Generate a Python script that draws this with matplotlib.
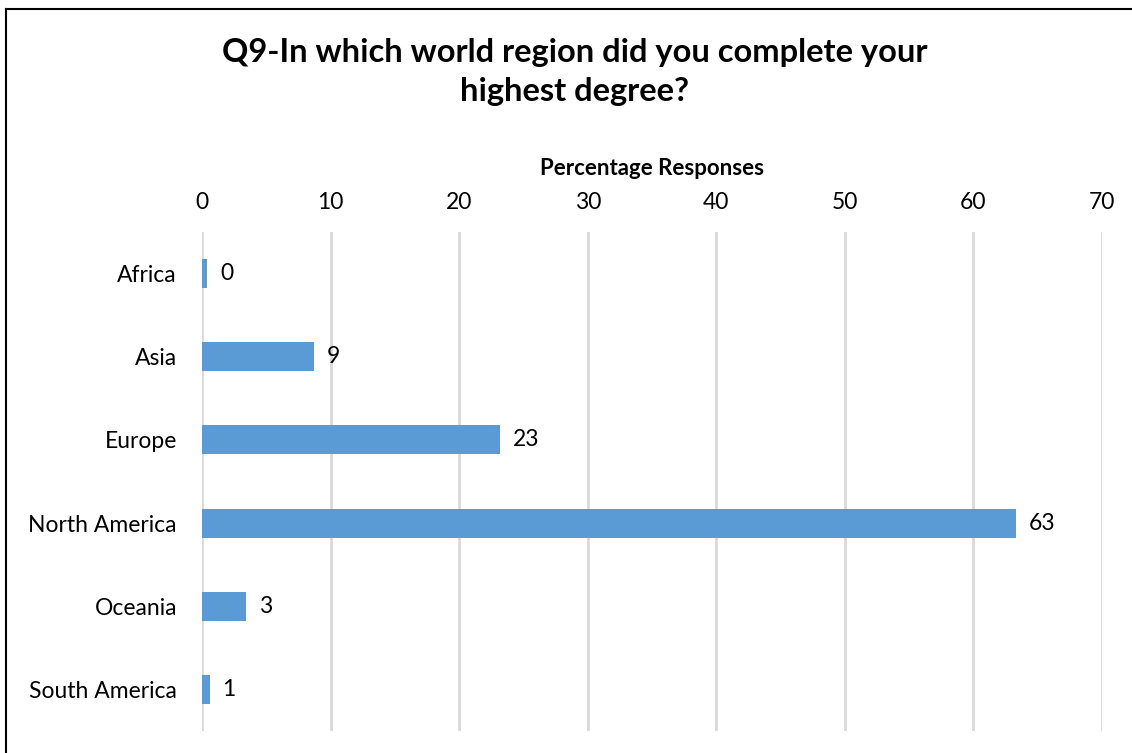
import matplotlib.pyplot as plt
from matplotlib.lines import Line2D

regions = ['Africa', 'Asia', 'Europe', 'North America', 'Oceania', 'South America']
percent = [0.4, 8.7, 23.2, 63.3, 3.4, 0.6]
labels = ['0', '9', '23', '63', '3', '1']
xticks = [0, 10, 20, 30, 40, 50, 60, 70]

plt.rcParams['font.family'] = ['Lato', 'DejaVu Sans']

W, H = 1132, 753
fig = plt.figure(figsize=(W / 100, H / 100), dpi=100)
ax = fig.add_axes([202 / W, (H - 731) / H, 900 / W, 499 / H])

y = list(range(len(regions)))
ax.barh(y, percent, height=0.35, color='#5b9bd5', zorder=3)
for yi, v, lab in zip(y, percent, labels):
    ax.text(v + 1.0, yi, lab, va='center', ha='left', fontsize=16.5, color='black')

ax.set_xlim(0, 70)
ax.set_ylim(len(regions) - 0.5, -0.5)
ax.set_yticks(y)
ax.set_yticklabels(regions, fontsize=16.5)
ax.set_xticks(xticks)
ax.set_xticklabels([str(t) for t in xticks], fontsize=16.5)
ax.xaxis.tick_top()
ax.xaxis.set_label_position('top')
ax.set_xlabel('Percentage Responses', fontsize=16, fontweight='bold', labelpad=12)
ax.tick_params(axis='y', length=0, pad=18)
ax.tick_params(axis='x', length=0, pad=14)
ax.grid(axis='x', color='#d9d9d9', linewidth=2, zorder=0)
for s in ax.spines.values():
    s.set_visible(False)

fig.text(575 / W, 1 - 72 / H, 'Q9-In which world region did you complete your\nhighest degree?',
         ha='center', va='center', fontsize=23.5, fontweight='bold', linespacing=1.4)

# frame around the chart (cut off at the right and bottom)
fig.add_artist(Line2D([6 / W, 1], [1 - 9 / H, 1 - 9 / H], color='black', linewidth=1.5))
fig.add_artist(Line2D([6 / W, 6 / W], [0, 1 - 9 / H], color='black', linewidth=1.5))

fig.savefig('out.png', dpi=100)
